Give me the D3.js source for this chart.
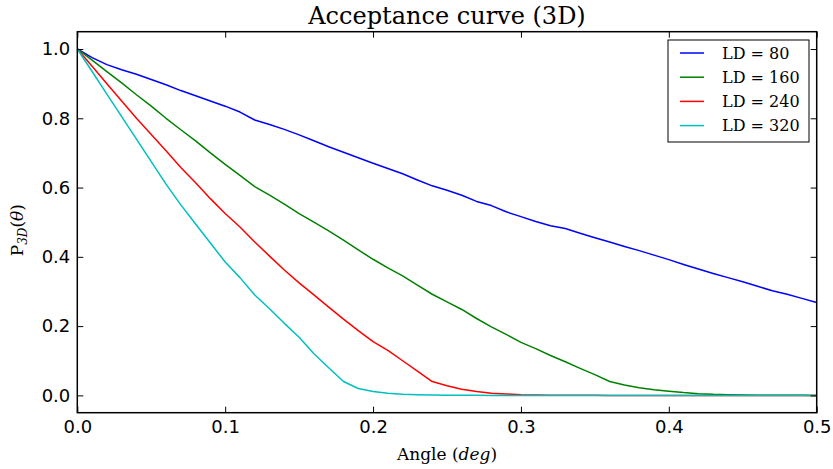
<!DOCTYPE html>
<html>
<head>
<meta charset="utf-8">
<script src="https://cdn.jsdelivr.net/npm/d3@7"></script>
<style>
  body { margin: 0; background: #fff; }
  svg { display: block; }
</style>
</head>
<body>
<div id="wrapper"></div>
<script>
// angles sampled every 0.01 deg
const angles = d3.range(0, 51).map(i => +(i * 0.01).toFixed(2))
const ld80 = [1.000, 0.975, 0.955, 0.940, 0.927, 0.912, 0.897, 0.880, 0.865, 0.850,
  0.835, 0.818, 0.795, 0.782, 0.768, 0.752, 0.735, 0.718, 0.702, 0.686,
  0.670, 0.655, 0.640, 0.622, 0.605, 0.592, 0.578, 0.560, 0.548, 0.530,
  0.516, 0.502, 0.490, 0.482, 0.468, 0.455, 0.443, 0.430, 0.418, 0.405,
  0.392, 0.378, 0.365, 0.352, 0.340, 0.328, 0.315, 0.302, 0.292, 0.280, 0.268]
const ld160 = [1.000, 0.968, 0.935, 0.902, 0.868, 0.835, 0.800, 0.767, 0.735, 0.700,
  0.667, 0.635, 0.603, 0.578, 0.552, 0.525, 0.500, 0.475, 0.448, 0.420,
  0.393, 0.368, 0.345, 0.318, 0.292, 0.270, 0.248, 0.222, 0.198, 0.176,
  0.153, 0.135, 0.115, 0.097, 0.078, 0.060, 0.040, 0.030, 0.022, 0.016,
  0.012, 0.008, 0.005, 0.003, 0.002, 0.001, 0.0005, 0.0003, 0.0002, 0.0001, 0.0]
const ld240 = [1.000, 0.950, 0.900, 0.850, 0.800, 0.753, 0.706, 0.658, 0.614, 0.568,
  0.525, 0.486, 0.443, 0.402, 0.362, 0.325, 0.290, 0.255, 0.220, 0.187,
  0.155, 0.130, 0.100, 0.070, 0.040, 0.028, 0.018, 0.011, 0.006, 0.004,
  0.002, 0.001, 0.0005, 0.0003, 0.0002, 0.0001, 0.0, 0.0, 0.0, 0.0,
  0.0, 0.0, 0.0, 0.0, 0.0, 0.0, 0.0, 0.0, 0.0, 0.0, 0.0]
const ld320 = [1.000, 0.935, 0.870, 0.805, 0.740, 0.675, 0.610, 0.550, 0.495, 0.440,
  0.385, 0.340, 0.290, 0.250, 0.208, 0.168, 0.120, 0.080, 0.040, 0.020,
  0.011, 0.006, 0.003, 0.0015, 0.0008, 0.0004, 0.0002, 0.0001, 0.0, 0.0,
  0.0, 0.0, 0.0, 0.0, 0.0, 0.0, 0.0, 0.0, 0.0, 0.0,
  0.0, 0.0, 0.0, 0.0, 0.0, 0.0, 0.0, 0.0, 0.0, 0.0, 0.0]
const seriesNames = ["LD = 80", "LD = 160", "LD = 240", "LD = 320"]
const seriesColors = ["#0000ff", "#008000", "#ff0000", "#00bfbf"]
const xTicks = [0.0, 0.1, 0.2, 0.3, 0.4, 0.5]
const yTicks = [0.0, 0.2, 0.4, 0.6, 0.8, 1.0]

const allSeries = [ld80, ld160, ld240, ld320]

let dimensions = {
  width: 833,
  height: 469,
  margin: { top: 31.7, right: 16.3, bottom: 56.3, left: 77.3 },
}
dimensions.boundedWidth = dimensions.width - dimensions.margin.left - dimensions.margin.right
dimensions.boundedHeight = dimensions.height - dimensions.margin.top - dimensions.margin.bottom

const wrapper = d3.select("#wrapper").append("svg")
  .attr("width", dimensions.width)
  .attr("height", dimensions.height)

const bounds = wrapper.append("g")
  .attr("transform", `translate(${dimensions.margin.left},${dimensions.margin.top})`)

const xScale = d3.scaleLinear().domain([0, 0.5]).range([0, dimensions.boundedWidth])
const yScale = d3.scaleLinear().domain([-0.05, 1.05]).range([dimensions.boundedHeight, 0])

// lines
const lineGen = d3.line()
  .x((d, i) => xScale(angles[i]))
  .y(d => yScale(d))

bounds.append("g").selectAll("path").data(allSeries).join("path")
  .attr("d", lineGen)
  .attr("fill", "none")
  .attr("stroke", (d, i) => seriesColors[i])
  .attr("stroke-width", 1.5)
  .attr("stroke-linejoin", "round")

// axes, ticks pointing inward like matplotlib classic
const fmt = d3.format(".1f")
const xAxis = bounds.append("g")
  .attr("transform", `translate(0,${dimensions.boundedHeight})`)
  .call(d3.axisBottom(xScale).tickValues(xTicks).tickFormat(fmt).tickSize(-6).tickPadding(8))
const xTop = bounds.append("g")
  .call(d3.axisTop(xScale).tickValues(xTicks).tickFormat("").tickSize(-6))
const yAxis = bounds.append("g")
  .call(d3.axisLeft(yScale).tickValues(yTicks).tickFormat(fmt).tickSize(-6).tickPadding(7))
const yRight = bounds.append("g")
  .attr("transform", `translate(${dimensions.boundedWidth},0)`)
  .call(d3.axisRight(yScale).tickValues(yTicks).tickFormat("").tickSize(-6))

;[xAxis, xTop, yAxis, yRight].forEach(a => {
  a.select(".domain").remove()
  a.selectAll("line").attr("stroke", "#000").attr("stroke-width", 1)
  a.selectAll("text")
    .attr("fill", "#000")
    .style("font-family", "DejaVu Sans")
    .style("font-size", "18px")
})

// frame
bounds.append("rect")
  .attr("width", dimensions.boundedWidth)
  .attr("height", dimensions.boundedHeight)
  .attr("fill", "none")
  .attr("stroke", "#000")
  .attr("stroke-width", 1.5)

// title
wrapper.append("text")
  .attr("x", dimensions.margin.left + dimensions.boundedWidth / 2)
  .attr("y", 23.5)
  .attr("text-anchor", "middle")
  .style("font-family", "DejaVu Serif")
  .style("font-size", "24px")
  .text("Acceptance curve (3D)")

// x label
const xLabel = wrapper.append("text")
  .attr("x", dimensions.margin.left + dimensions.boundedWidth / 2)
  .attr("y", 460)
  .attr("text-anchor", "middle")
  .style("font-family", "DejaVu Serif")
  .style("font-size", "17px")
xLabel.append("tspan").text("Angle (")
xLabel.append("tspan").style("font-style", "italic").text("deg")
xLabel.append("tspan").text(")")

// y label
const yLabel = wrapper.append("text")
  .attr("transform", `translate(23,${dimensions.margin.top + dimensions.boundedHeight / 2 + 8}) rotate(-90)`)
  .attr("text-anchor", "middle")
  .style("font-family", "DejaVu Serif")
  .style("font-size", "17px")
yLabel.append("tspan").text("P")
yLabel.append("tspan").attr("dy", 4).style("font-size", "12px").style("font-style", "italic").text("3D")
yLabel.append("tspan").attr("dy", -4).text("(")
yLabel.append("tspan").style("font-style", "italic").text("θ")
yLabel.append("tspan").text(")")

// legend
const legend = wrapper.append("g").attr("transform", "translate(668,40)")
legend.append("rect")
  .attr("width", 141)
  .attr("height", 102)
  .attr("fill", "#fff")
  .attr("stroke", "#000")
  .attr("stroke-width", 1)
const items = legend.selectAll("g.item").data(seriesNames).join("g")
  .attr("transform", (d, i) => `translate(0,${13 + i * 24.2})`)
items.append("line")
  .attr("x1", 12).attr("x2", 36)
  .attr("stroke", (d, i) => seriesColors[i])
  .attr("stroke-width", 1.5)
items.append("text")
  .attr("x", 54)
  .attr("dy", "0.35em")
  .style("font-family", "DejaVu Serif")
  .style("font-size", "16px")
  .text(d => d)
</script>
</body>
</html>
